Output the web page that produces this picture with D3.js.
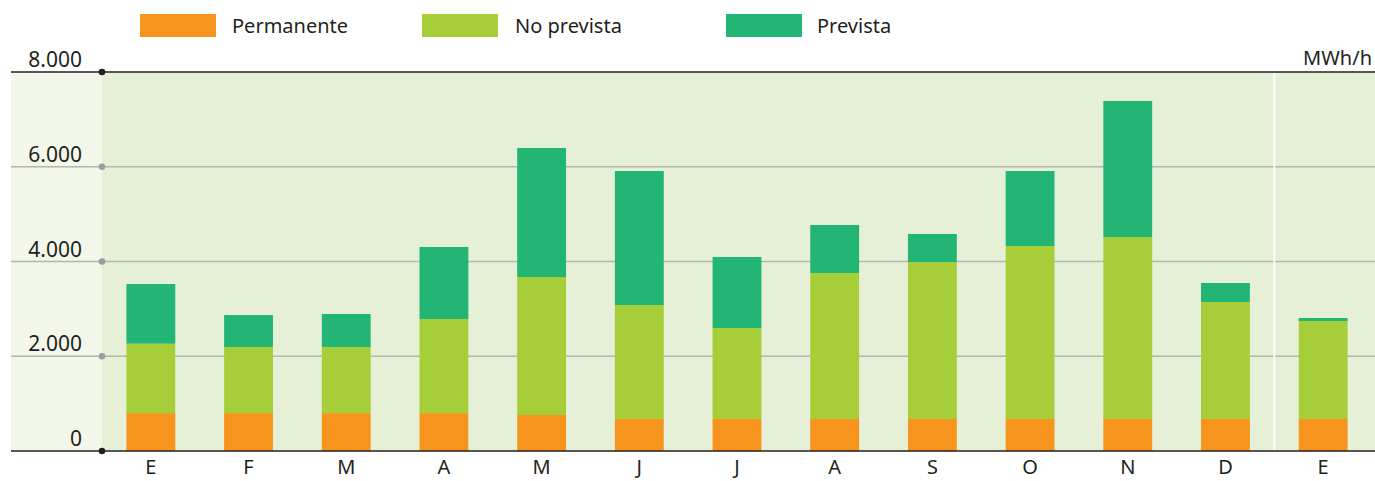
<!DOCTYPE html>
<html>
<head>
<meta charset="utf-8">
<script src="https://cdn.jsdelivr.net/npm/d3@7"></script>
<style>
  body { margin: 0; background: #fff; }
  text { font-family: "Noto Sans", sans-serif; fill: #231f20; }
</style>
</head>
<body>
<div id="graph"></div>
<script>
const W = 1375, H = 481;

// data (MWh/h)
const months = ["E", "F", "M", "A", "M", "J", "J", "A", "S", "O", "N", "D", "E"];
const permanente = [800, 800, 800, 800, 760, 675, 675, 675, 675, 675, 675, 675, 675];
const noPrevista = [1465, 1395, 1395, 1986, 2913, 2407, 1921, 3082, 3314, 3652, 3842, 2470, 2069];
const prevista   = [1260, 675, 697, 1520, 2723, 2828, 1499, 1013, 591, 1583, 2871, 401, 63];
const yTicks = [0, 2000, 4000, 6000, 8000];
const seriesNames = ["Permanente", "No prevista", "Prevista"];
const colors = ["#f7941d", "#a6ce39", "#22b573"];

const svg = d3.select("#graph")
  .append("svg")
  .attr("width", W)
  .attr("height", H);

const idx = months.map((d, i) => i);

const x = d3.scaleBand()
  .domain(idx)
  .range([102, 1372])
  .paddingInner(0.5)
  .paddingOuter(0.25);

const y = d3.scaleLinear()
  .domain([0, 8000])
  .range([451, 72]);

// backgrounds
svg.append("rect")
  .attr("x", 11).attr("y", y(8000))
  .attr("width", 91).attr("height", y(0) - y(8000))
  .attr("fill", "#f2f7ea");
svg.append("rect")
  .attr("x", 102).attr("y", y(8000))
  .attr("width", W - 102).attr("height", y(0) - y(8000))
  .attr("fill", "#e6f0d7");

// gridlines
svg.selectAll(".grid")
  .data(yTicks.filter(d => d > 0 && d < 8000))
  .enter().append("line")
  .attr("class", "grid")
  .attr("x1", 11).attr("x2", W)
  .attr("y1", d => y(d)).attr("y2", d => y(d))
  .attr("stroke", "#b3b6ae")
  .attr("stroke-width", 1.5);

// separator between years
const sepX = x(11) + x.bandwidth() + (x.step() - x.bandwidth()) / 2;
svg.append("line")
  .attr("x1", sepX).attr("x2", sepX)
  .attr("y1", y(8000) + 1).attr("y2", y(0))
  .attr("stroke", "#ffffff")
  .attr("stroke-width", 2);

// stacks
const rows = idx.map(i => ({i, p: permanente[i], n: noPrevista[i], v: prevista[i]}));
const stack = d3.stack().keys(["p", "n", "v"])(rows);

svg.selectAll(".serie")
  .data(stack)
  .enter().append("g")
  .attr("fill", (d, k) => colors[k])
  .selectAll("rect")
  .data(d => d)
  .enter().append("rect")
  .attr("x", d => x(d.data.i))
  .attr("width", x.bandwidth())
  .attr("y", d => y(d[1]))
  .attr("height", d => y(d[0]) - y(d[1]));

// axis lines
svg.append("line")
  .attr("x1", 11).attr("x2", W)
  .attr("y1", y(0)).attr("y2", y(0))
  .attr("stroke", "#231f20").attr("stroke-width", 1.5);
svg.append("line")
  .attr("x1", 11).attr("x2", W)
  .attr("y1", y(8000)).attr("y2", y(8000))
  .attr("stroke", "#231f20").attr("stroke-width", 1.5);

// dots
svg.selectAll(".dot")
  .data(yTicks)
  .enter().append("circle")
  .attr("cx", 102)
  .attr("cy", d => y(d))
  .attr("r", 3.3)
  .attr("fill", d => (d === 0 || d === 8000) ? "#231f20" : "#9a9c9e");

// y labels
const fmt = d3.formatLocale({decimal: ",", thousands: ".", grouping: [3], currency: ["", ""]}).format(",");
svg.selectAll(".ylab")
  .data(yTicks)
  .enter().append("text")
  .attr("x", 82)
  .attr("y", d => y(d) - 5)
  .attr("text-anchor", "end")
  .attr("font-size", 21)
  .text(d => fmt(d));

svg.append("text")
  .attr("x", 1372)
  .attr("y", 65)
  .attr("text-anchor", "end")
  .attr("font-size", 20)
  .text("MWh/h");

// x labels
svg.selectAll(".xlab")
  .data(idx)
  .enter().append("text")
  .attr("x", d => x(d) + x.bandwidth() / 2)
  .attr("y", 474)
  .attr("text-anchor", "middle")
  .attr("font-size", 20)
  .text(d => months[d]);

// legend
const legX = [140, 422, 726];
const legend = svg.selectAll(".legend")
  .data(seriesNames)
  .enter().append("g")
  .attr("transform", (d, i) => `translate(${legX[i]},14)`);
legend.append("rect")
  .attr("width", 76).attr("height", 23)
  .attr("fill", (d, i) => colors[i]);
legend.append("text")
  .attr("x", (d, i) => [92, 93, 91][i])
  .attr("y", 19)
  .attr("font-size", 20)
  .text(d => d);
</script>
</body>
</html>
